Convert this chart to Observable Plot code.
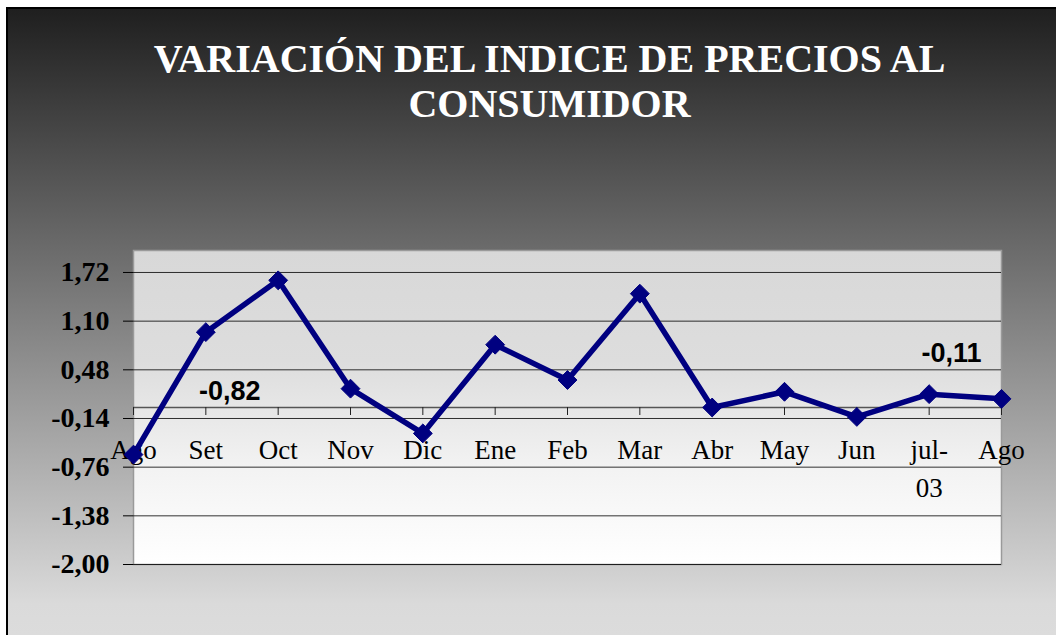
<!DOCTYPE html>
<html><head><meta charset="utf-8">
<script src="https://cdn.jsdelivr.net/npm/d3@7"></script>
<script src="https://cdn.jsdelivr.net/npm/@observablehq/plot@0.6"></script>
<style>
html,body{margin:0;padding:0;background:#fff;width:1056px;height:635px;overflow:hidden}
#wrap{position:relative;width:1056px;height:635px}
#bg{position:absolute;left:6px;top:7px;right:0;bottom:0;border-left:2px solid #000;border-top:2px solid #000;
  background:linear-gradient(to bottom,#1f1f1f 0%,#474747 20%,#dadada 95%,#dcdcdc 100%)}
#chart{position:absolute;left:0;top:0}
</style></head><body><div id="wrap"><div id="bg"></div><div id="chart"></div></div>
<script>
const months = ["Ago","Set","Oct","Nov","Dic","Ene","Feb","Mar","Abr","May","Jun","jul-\n03","Ago"];
const values = [-0.60, 0.96, 1.62, 0.24, -0.33, 0.80, 0.35, 1.45, 0.00, 0.20, -0.12, 0.17, 0.11];
const yTicks = [-2.00, -1.38, -0.76, -0.14, 0.48, 1.10, 1.72];
const titleText = "VARIACIÓN DEL INDICE DE PRECIOS AL\nCONSUMIDOR";
const noteLabels = ["-0,82", "-0,11"];
const noteX = [1.33, 11.31];
const noteY = [0.20, 0.69];

const idx = months.map((_, i) => i);
const pts = values.map((v, i) => ({i, v}));
const notes = noteLabels.map((t, k) => ({t, x: noteX[k], y: noteY[k]}));
const fmt = d => d.toFixed(2).replace(".", ",");
const serif = "'Liberation Serif', 'Times New Roman', serif";
const sans = "'Liberation Sans', Arial, sans-serif";

const plot = Plot.plot({
  width: 1056, height: 635,
  marginLeft: 133, marginRight: 55, marginTop: 250, marginBottom: 71,
  style: {background: "transparent", overflow: "visible", fontFamily: serif},
  x: {domain: [0, 12], axis: null},
  y: {domain: [-2, 2], axis: null},
  marks: [
    Plot.frame({fill: "url(#pa)", stroke: "#9a9a9a", strokeWidth: 1.5}),
    Plot.ruleY(yTicks, {stroke: "#000", strokeOpacity: 0.8, strokeWidth: 1}),
    Plot.axisY(yTicks, {tickFormat: fmt, tickSize: 10, tickPadding: 14, fontSize: 28, fontWeight: "bold",
      fontFamily: serif, fill: "#000", stroke: "#000", label: null}),
    Plot.ruleY([0], {stroke: "#555", strokeWidth: 1.5}),
    Plot.ruleX(idx, {x: d => d, y1: 0, y2: 0, insetTop: 0, insetBottom: -8, stroke: "#222", strokeWidth: 1}),
    Plot.text(idx, {x: d => d, y: 0, text: d => months[d], dy: 25, lineAnchor: "top", lineHeight: 1.4,
      fontSize: 27, fontFamily: serif, fill: "#000"}),
    Plot.line(pts, {x: "i", y: "v", stroke: "#000080", strokeWidth: 5.5, strokeLinejoin: "round"}),
    Plot.dot(pts, {x: "i", y: "v", symbol: "diamond2", r: 8.5, fill: "#000080", stroke: "#000080", strokeWidth: 1}),
    Plot.text(notes, {x: "x", y: "y", text: "t", fontSize: 27, fontWeight: "bold", fontFamily: sans, fill: "#000"}),
    Plot.text([titleText], {frameAnchor: "top", dx: -18, dy: -211, lineAnchor: "top", lineHeight: 1.13,
      fontSize: 40, fontWeight: "bold", fontFamily: serif, fill: "#fff"})
  ]
});
const svg = d3.select(plot);
const defs = svg.insert("defs", ":first-child");
const g = defs.append("linearGradient").attr("id", "pa").attr("x1", 0).attr("y1", 0).attr("x2", 0).attr("y2", 1);
[["0%", "#d8d8d8"], ["35%", "#dddddd"], ["70%", "#f3f3f3"], ["100%", "#ffffff"]].forEach(([o, c]) =>
  g.append("stop").attr("offset", o).attr("stop-color", c));
document.getElementById("chart").appendChild(plot);
</script>
</body></html>
